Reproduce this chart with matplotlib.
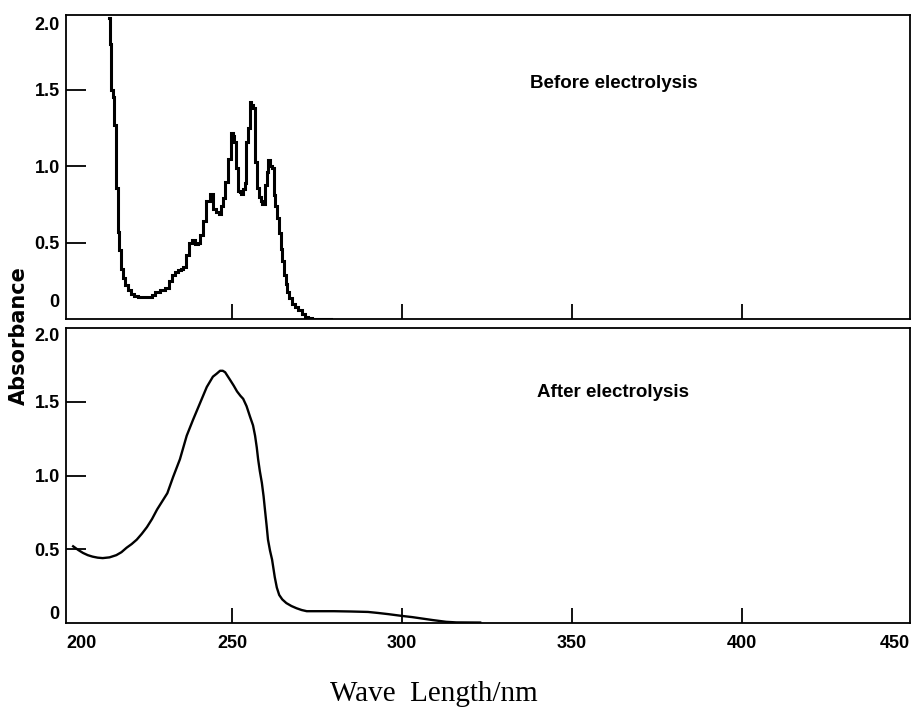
import matplotlib
matplotlib.use("Agg")
import matplotlib.pyplot as plt
from matplotlib.transforms import blended_transform_factory as btf

# ---- data ----
before_nm = [213.8, 214.3, 214.7, 215.2, 215.6, 216.2, 216.6, 217.1, 217.6, 218.3,
             219.0, 219.8, 220.6, 221.8, 223.0, 224.5, 226.0, 227.0, 228.0, 229.5,
             231.0, 232.0, 232.7, 233.7, 234.7, 235.4, 236.0, 237.0, 238.0, 238.8,
             239.6, 240.3, 241.0, 242.0, 243.0, 244.0, 245.0, 245.8, 246.5, 247.0,
             247.6, 248.5, 249.4, 250.0, 250.5, 251.0, 251.5, 252.0, 252.5, 253.0,
             253.5, 254.0, 254.4, 255.0, 255.5, 256.0, 256.5, 257.0, 257.7, 258.2,
             258.7, 259.2, 259.7, 260.0, 260.5, 261.0, 261.5, 262.0, 262.6, 263.0,
             263.5, 264.0, 264.6, 265.1, 265.6, 266.0, 266.5, 267.2, 268.0, 269.0,
             270.0, 271.0, 272.0, 273.0, 274.0, 276.0, 278.0, 279.0]
before_abs = [1.97, 1.80, 1.50, 1.45, 1.27, 0.86, 0.57, 0.45, 0.33, 0.27,
              0.22, 0.19, 0.165, 0.15, 0.145, 0.145, 0.145, 0.16, 0.18, 0.19,
              0.20, 0.25, 0.29, 0.31, 0.32, 0.33, 0.34, 0.42, 0.50, 0.52,
              0.49, 0.50, 0.55, 0.64, 0.77, 0.82, 0.72, 0.70, 0.69, 0.74,
              0.79, 0.90, 1.05, 1.22, 1.20, 1.16, 0.99, 0.84, 0.83, 0.82,
              0.85, 0.89, 1.16, 1.25, 1.42, 1.40, 1.38, 1.03, 0.86, 0.80,
              0.77, 0.75, 0.75, 0.88, 0.96, 1.04, 1.00, 0.99, 0.81, 0.74,
              0.66, 0.56, 0.46, 0.38, 0.29, 0.23, 0.18, 0.14, 0.10, 0.08,
              0.06, 0.035, 0.013, 0.005, 0.0, 0.0, 0.0, 0.0]

after_nm = [203.3, 204.8, 206.2, 207.6, 209.0, 210.5, 212.0, 214.0, 216.0, 217.5,
            219.0, 220.5, 222.0, 223.5, 225.0, 226.5, 228.0, 229.5, 231.0, 232.7,
            234.7, 236.7, 238.6, 240.6, 242.6, 244.4, 245.5, 246.5, 247.3, 248.0,
            249.4, 250.5, 251.5, 252.5, 253.3, 254.3, 255.3, 256.2, 256.8, 257.3,
            257.7, 258.2, 258.8, 259.3, 259.7, 260.2, 260.6, 261.2, 261.8, 262.6,
            263.2, 263.9, 264.8, 266.0, 267.5, 269.0, 270.5, 272.0, 276.0, 280.0,
            285.0, 290.0, 293.0, 296.0, 300.0, 303.0, 306.0, 309.0, 311.0, 313.0,
            316.0, 323.0]
after_abs = [0.52, 0.495, 0.475, 0.46, 0.45, 0.443, 0.44, 0.445, 0.46, 0.48,
             0.51, 0.535, 0.565, 0.605, 0.65, 0.705, 0.77, 0.825, 0.88, 0.99,
             1.11, 1.27, 1.38, 1.49, 1.60, 1.67, 1.69, 1.71, 1.71, 1.70,
             1.65, 1.61, 1.57, 1.54, 1.52, 1.47, 1.40, 1.34, 1.27, 1.19,
             1.11, 1.03, 0.95, 0.86, 0.77, 0.66, 0.565, 0.49, 0.43, 0.31,
             0.24, 0.19, 0.16, 0.135, 0.115, 0.10, 0.088, 0.08, 0.08, 0.08,
             0.078, 0.075, 0.068, 0.06, 0.048, 0.04, 0.03, 0.02, 0.014, 0.008,
             0.004, 0.003]

x_ticks = [250, 300, 350, 400]
x_tick_labels = ["250", "300", "350", "400"]
y_ticks = [0.5, 1.0, 1.5]
y_tick_labels = ["0.5", "1.0", "1.5"]
panel_titles = ["Before electrolysis", "After electrolysis"]

W, H = 911, 709
fig = plt.figure(figsize=(W / 100, H / 100), dpi=100)

def frac_box(l, t, r, b):
    return [l / W, 1 - b / H, (r - l) / W, (b - t) / H]

ax1 = fig.add_axes(frac_box(66, 15, 910, 319))
ax2 = fig.add_axes(frac_box(66, 328, 910, 623))

sans = "Liberation Sans"

for ax in (ax1, ax2):
    ax.set_xlim(201.2, 449.4)
    for s in ax.spines.values():
        s.set_linewidth(1.3)
        s.set_color("black")
    ax.set_xticks(x_ticks)
    ax.set_yticks(y_ticks)
    ax.set_yticklabels(y_tick_labels, fontfamily=sans, fontweight="bold", fontsize=13)
    ax.tick_params(axis="x", direction="in", length=11, width=1.3, pad=9)
    ax.tick_params(axis="y", direction="in", length=14.5, width=1.3, pad=4.5)

ax1.set_ylim(0, 1.99)
ax2.set_ylim(0, 2.0)
ax1.set_xticklabels([])
ax2.set_xticklabels(x_tick_labels, fontfamily=sans, fontweight="bold", fontsize=13)

ax1.plot(before_nm, before_abs, color="black", lw=2.2, drawstyle="steps-mid",
         solid_joinstyle="miter")
ax2.plot(after_nm, after_abs, color="black", lw=1.7)

# end labels on the axes (shifted inward as in the reference)
for ax, top_y, zero_y in ((ax1, 1.92, 0.11), (ax2, 1.94, 0.055)):
    tr = btf(ax.transAxes, ax.transData)
    ax.text(-0.0075, top_y, "2.0", transform=tr, ha="right", va="center",
            fontfamily=sans, fontweight="bold", fontsize=13)
    ax.text(-0.0075, zero_y, "0", transform=tr, ha="right", va="center",
            fontfamily=sans, fontweight="bold", fontsize=13)

tr2 = btf(ax2.transData, ax2.transAxes)
ax2.text(205.9, -0.068, "200", transform=tr2, ha="center", va="center",
         fontfamily=sans, fontweight="bold", fontsize=13)
ax2.text(445.0, -0.068, "450", transform=tr2, ha="center", va="center",
         fontfamily=sans, fontweight="bold", fontsize=13)

ax1.text(362.4, 1.54, panel_titles[0], ha="center", va="center",
         fontfamily=sans, fontweight="bold", fontsize=13.5)
ax2.text(362.0, 1.56, panel_titles[1], ha="center", va="center",
         fontfamily=sans, fontweight="bold", fontsize=13.5)

fig.text(18.5 / W, 1 - 336 / H, "Absorbance", rotation=90, ha="center", va="center",
         fontfamily="DejaVu Sans", fontweight="bold", fontsize=15)
fig.text(434 / W, 1 - 694 / H, "Wave  Length/nm", ha="center", va="center",
         fontfamily="Liberation Serif", fontsize=21)

fig.savefig("out.png", dpi=100)
